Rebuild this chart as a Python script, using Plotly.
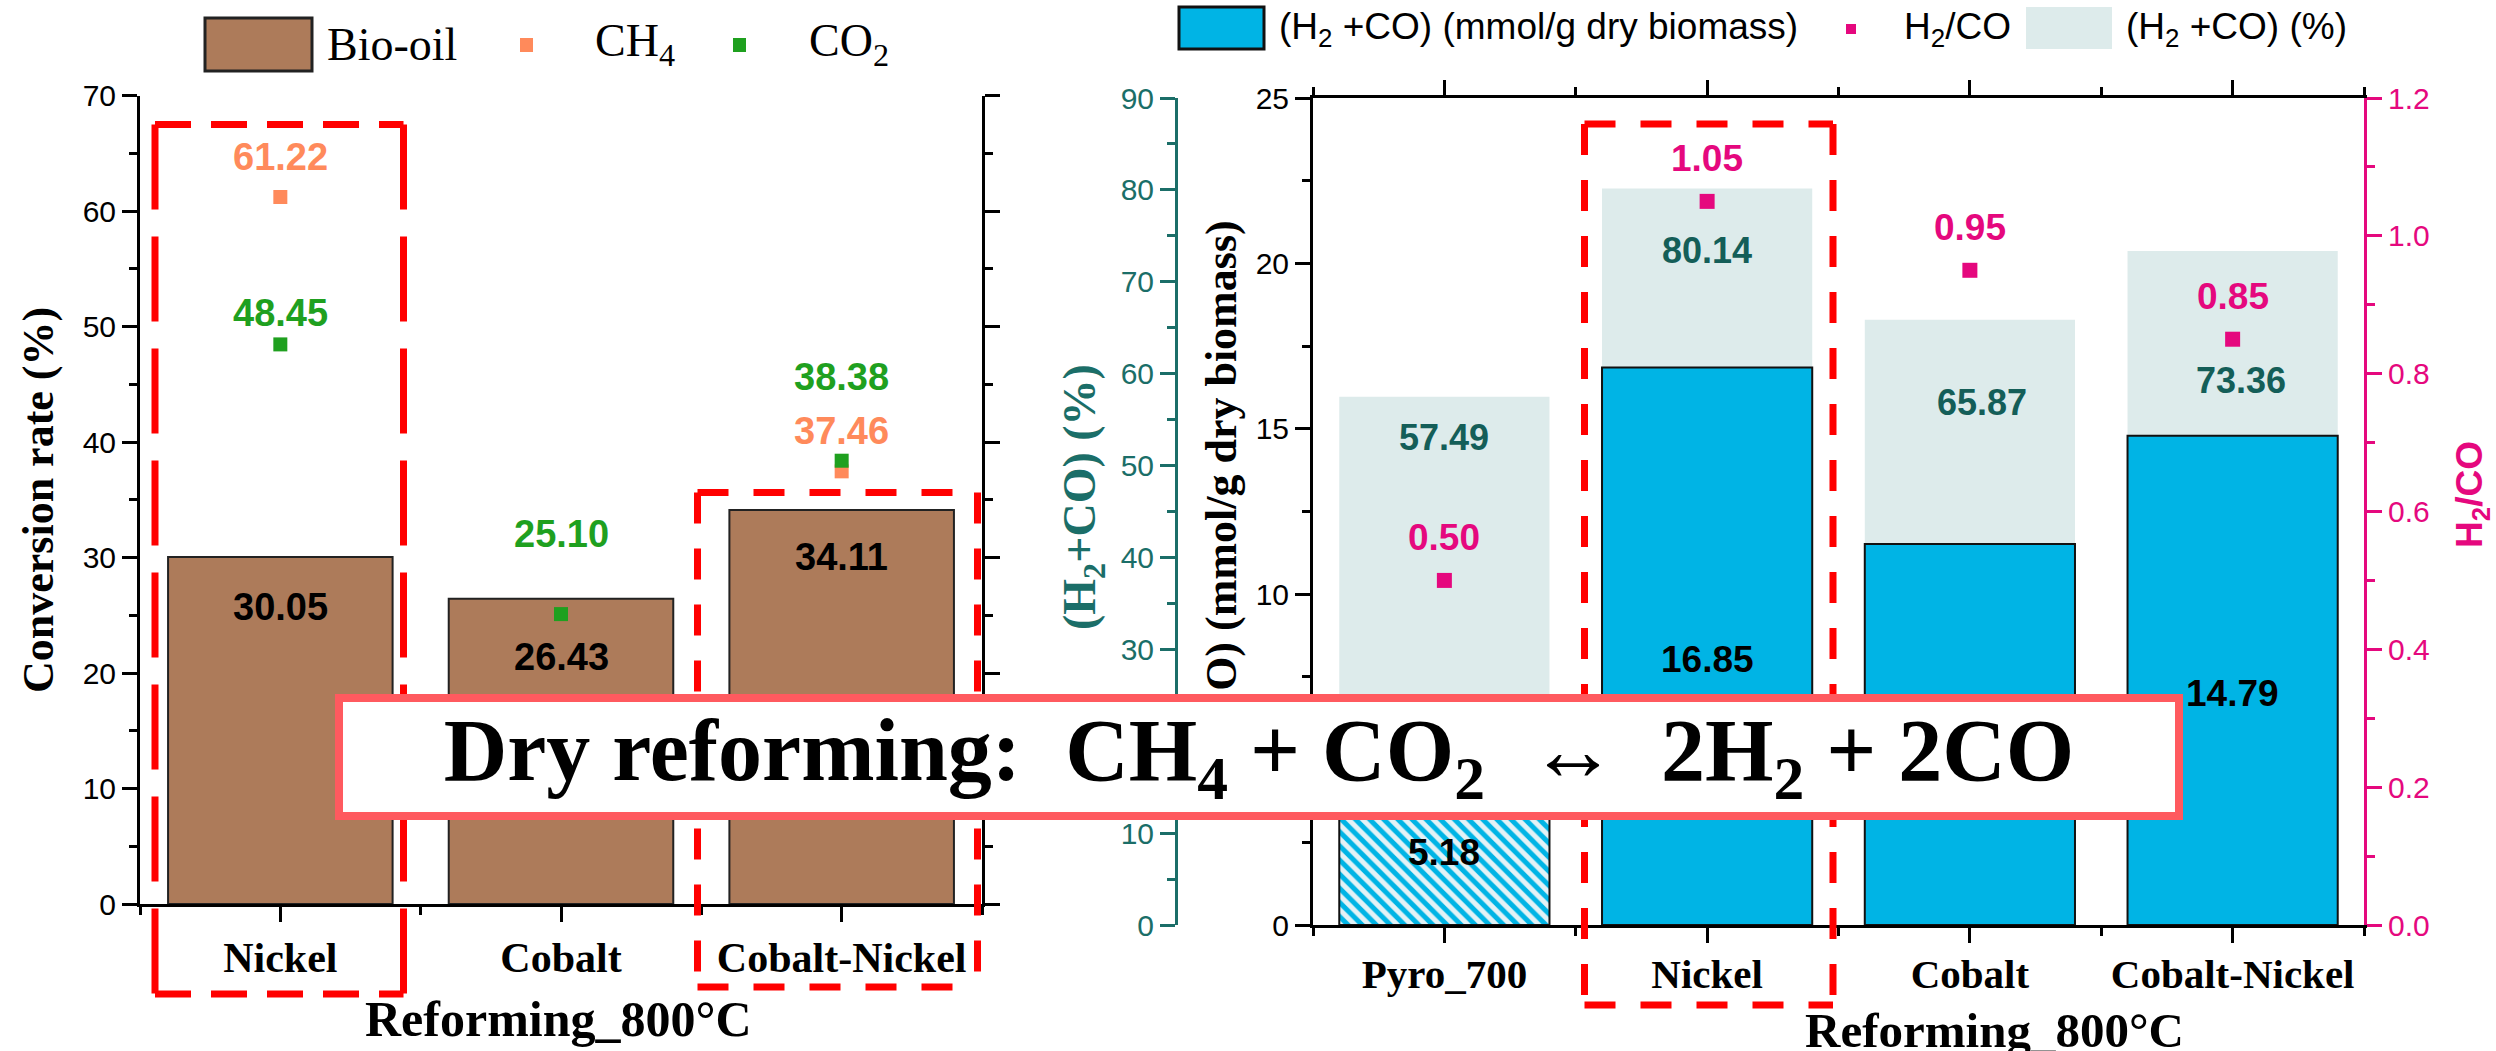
import plotly.graph_objects as go

W, H = 2496, 1051

# ---- left panel: conversion rates at 800 °C reforming ----
catalysts = ["Nickel", "Cobalt", "Cobalt-Nickel"]
bio_oil = [30.05, 26.43, 34.11]
ch4 = [61.22, None, 37.46]
co2 = [48.45, 25.10, 38.38]

# ---- right panel: syngas yield and H2/CO ratio ----
samples = ["Pyro_700", "Nickel", "Cobalt", "Cobalt-Nickel"]
syngas_mmol = [5.18, 16.85, 11.52, 14.79]
syngas_pct = [57.49, 80.14, 65.87, 73.36]
h2_co = [0.50, 1.05, 0.95, 0.85]

# label offsets in pixels (hand placed to avoid overlaps)
bio_shift = [50, 58, 47]
co2_shift = [31, 80, 84]
ch4_shift = 40
pct_shift = [41, 62, 83, 130]
pct_xshift = [0, 0, 12, 8]
ratio_shift = 43

BROWN = "#AD7B5A"
ORANGE = "#FF8A5B"
GREEN = "#1FA01F"
BLUE = "#00B4E5"
PALE = "#DDEBEB"
TEAL = "#1B6E68"
TEAL_DARK = "#145E58"
PINK = "#E5087E"
RED = "#FF0000"
SALMON = "#FF5A5F"

SERIF = "Liberation Serif"
SANS = "Liberation Sans"


def fx(p):
    return p / W


def fy(p):
    return 1 - p / H


xl = list(range(len(catalysts)))
xr = list(range(len(samples)))

fig = go.Figure()

# left panel traces
fig.add_trace(go.Bar(x=xl, y=bio_oil, width=0.8, name="Bio-oil",
                     marker=dict(color=BROWN, line=dict(color="#222222", width=2)),
                     xaxis="x", yaxis="y"))
fig.add_trace(go.Scatter(x=xl, y=ch4, mode="markers", name="CH4",
                         marker=dict(symbol="square", size=14, color=ORANGE),
                         xaxis="x", yaxis="y"))
fig.add_trace(go.Scatter(x=xl, y=co2, mode="markers", name="CO2",
                         marker=dict(symbol="square", size=14, color=GREEN),
                         xaxis="x", yaxis="y"))

# right panel traces
fig.add_trace(go.Bar(x=xr, y=syngas_pct, width=0.8, name="(H2+CO) (%)",
                     marker=dict(color=PALE, line=dict(width=0)),
                     xaxis="x2", yaxis="y2"))
fig.add_trace(go.Bar(x=xr, y=syngas_mmol, width=0.8, name="(H2+CO) (mmol/g)",
                     marker=dict(color=BLUE, line=dict(color="#111111", width=2),
                                 pattern=dict(shape=["\\", "", "", ""], fgcolor=BLUE,
                                              bgcolor="#E3F2F6", size=10, solidity=0.5,
                                              fillmode="replace")),
                     xaxis="x2", yaxis="y3"))
fig.add_trace(go.Scatter(x=xr, y=h2_co, mode="markers", name="H2/CO",
                         marker=dict(symbol="square", size=15, color=PINK),
                         xaxis="x2", yaxis="y4"))

base_axis = dict(showline=True, linewidth=3, ticks="outside", ticklen=15, tickwidth=3,
                 showgrid=False, zeroline=False, automargin=False)


def axis(color="black", **kw):
    d = dict(base_axis)
    d.update(linecolor=color, tickcolor=color)
    d.update(kw)
    return d


tick_sans = dict(family=SANS, size=30, color="black")
tick_serif = dict(family=SERIF, size=42, color="black", weight="bold")

fig.update_layout(
    template="none",
    width=W, height=H, autosize=False,
    margin=dict(l=0, r=0, t=0, b=0, pad=0, autoexpand=False),
    paper_bgcolor="white", plot_bgcolor="rgba(0,0,0,0)",
    showlegend=False, barmode="overlay",
    xaxis=axis(domain=[fx(140), fx(982)], range=[-0.5, 2.5], anchor="y",
               tickmode="array", tickvals=xl, ticktext=catalysts, tickfont=tick_serif,
               minor=dict(tick0=-0.5, dtick=1, ticks="outside", ticklen=8, tickwidth=3,
                          tickcolor="black")),
    xaxis3=axis(overlaying="x", side="top", anchor="y", range=[-0.5, 2.5],
                tickmode="array", tickvals=xl, showticklabels=False,
                ticks="inside", ticklen=13,
                minor=dict(tick0=-0.5, dtick=1, ticks="inside", ticklen=6, tickwidth=3,
                           tickcolor="black")),
    yaxis=axis(domain=[fy(904), fy(95.5)], range=[0, 70], dtick=10, anchor="x",
               mirror="ticks", tickfont=tick_sans,
               minor=dict(dtick=5, ticks="outside", ticklen=8, tickwidth=3,
                          tickcolor="black")),
    xaxis2=axis(domain=[fx(1313), fx(2364)], range=[-0.5, 3.5], anchor="y2",
                tickmode="array", tickvals=xr, ticktext=samples,
                tickfont=dict(tick_serif, size=41), mirror="ticks",
                ticklabelstandoff=-4,
                minor=dict(tick0=-0.5, dtick=1, ticks="outside", ticklen=8, tickwidth=3,
                           tickcolor="black")),
    yaxis2=axis(color=TEAL, domain=[fy(925), fy(98)], range=[0, 90], dtick=10,
                anchor="free", position=fx(1176), side="left",
                tickfont=dict(family=SANS, size=30, color=TEAL),
                minor=dict(dtick=5, ticks="outside", ticklen=8, tickwidth=3,
                           tickcolor=TEAL)),
    yaxis3=axis(overlaying="y2", anchor="x2", side="left", range=[0, 25], dtick=5,
                tickfont=tick_sans,
                minor=dict(dtick=2.5, ticks="outside", ticklen=8, tickwidth=3,
                           tickcolor="black")),
    yaxis4=axis(color=PINK, overlaying="y2", anchor="x2", side="right", range=[0, 1.2],
                dtick=0.2, tickformat=".1f",
                tickfont=dict(family=SANS, size=30, color=PINK),
                minor=dict(dtick=0.1, ticks="outside", ticklen=8, tickwidth=3,
                           tickcolor=PINK)),
)

ann = []
val_font = dict(family=SANS, size=38, weight="bold")

# bar and point value labels, left panel
for i, v in enumerate(bio_oil):
    ann.append(dict(x=i, y=v, xref="x", yref="y", text=f"{v:.2f}", showarrow=False,
                    yshift=-bio_shift[i], font=dict(val_font, color="black")))
for i, v in enumerate(ch4):
    if v is not None:
        ann.append(dict(x=i, y=v, xref="x", yref="y", text=f"{v:.2f}", showarrow=False,
                        yshift=ch4_shift, font=dict(val_font, color=ORANGE)))
for i, v in enumerate(co2):
    ann.append(dict(x=i, y=v, xref="x", yref="y", text=f"{v:.2f}", showarrow=False,
                    yshift=co2_shift[i], font=dict(val_font, color=GREEN)))

# value labels, right panel
rfont = dict(family=SANS, size=37, weight="bold")
for i, v in enumerate(syngas_mmol):
    ann.append(dict(x=i, y=v / 2, xref="x2", yref="y3", text=f"{v:.2f}", showarrow=False,
                    yshift=-13, font=dict(rfont, color="black")))
for i, v in enumerate(syngas_pct):
    ann.append(dict(x=i, y=v, xref="x2", yref="y2", text=f"{v:.2f}", showarrow=False,
                    yshift=-pct_shift[i], xshift=pct_xshift[i],
                    font=dict(rfont, size=36, color=TEAL_DARK)))
for i, v in enumerate(h2_co):
    ann.append(dict(x=i, y=v, xref="x2", yref="y4", text=f"{v:.2f}", showarrow=False,
                    yshift=ratio_shift, font=dict(rfont, color=PINK)))


def paper_text(xp, yp, text, font, angle=0, **kw):
    d = dict(x=fx(xp), y=fy(yp), xref="paper", yref="paper", text=text, showarrow=False,
             xanchor="center", yanchor="middle", textangle=angle, font=font)
    d.update(kw)
    return d


# axis titles
title_serif = dict(family=SERIF, weight="bold")
ann += [
    paper_text(558, 1019, "Reforming_800°C", dict(title_serif, size=50, color="black")),
    paper_text(1994, 1030, "Reforming_800°C", dict(title_serif, size=49, color="black")),
    paper_text(38, 500, "Conversion rate (%)", dict(title_serif, size=44, color="black"), -90),
    paper_text(1224, 516, "(H<sub>2</sub>+CO) (mmol/g dry biomass)",
               dict(title_serif, size=44, color="black"), -90),
    paper_text(1083, 497, "(H<sub>2</sub>+CO) (%)", dict(title_serif, size=46, color=TEAL), -90),
    paper_text(2472, 495, "H<sub>2</sub>/CO",
               dict(family=SANS, size=37, weight="bold", color=PINK), -90),
]

# legend text
leg_serif = dict(family=SERIF, size=46, color="black")
leg_sans = dict(family=SANS, size=37, color="black")
for x0, yc, txt, f in [
    (325, 44, "Bio-oil", leg_serif),
    (593, 44, "CH<sub>4</sub>", leg_serif),
    (807, 44, "CO<sub>2</sub>", leg_serif),
    (1277, 29, "(H<sub>2</sub> +CO) (mmol/g dry biomass)", leg_sans),
    (1902, 29, "H<sub>2</sub>/CO", leg_sans),
    (2124, 29, "(H<sub>2</sub> +CO) (%)", leg_sans),
]:
    ann.append(paper_text(x0, yc, txt, f, xanchor="left"))

# reaction banner, drawn last so it sits on top
nb = "\u00a0"
reaction = (f"Dry reforming:{nb*2}CH<sub>4</sub> + CO<sub>2</sub>{nb*2}↔{nb*2}"
            f"2H<sub>2</sub> + 2CO")
ann.append(paper_text(1259, 757, reaction,
                      dict(family=SERIF, size=88, weight="bold", color="black"),
                      width=1832, height=110, bgcolor="white", bordercolor=SALMON,
                      borderwidth=8, borderpad=0, align="center", valign="middle"))

fig.update_layout(annotations=ann)

# legend swatches
shapes = [
    dict(type="rect", xref="paper", yref="paper", x0=fx(205), x1=fx(312), y0=fy(71), y1=fy(18),
         fillcolor=BROWN, line=dict(color="#222222", width=3)),
    dict(type="rect", xref="paper", yref="paper", x0=fx(520), x1=fx(533), y0=fy(52), y1=fy(38),
         fillcolor=ORANGE, line=dict(width=0)),
    dict(type="rect", xref="paper", yref="paper", x0=fx(733), x1=fx(746), y0=fy(52), y1=fy(38),
         fillcolor=GREEN, line=dict(width=0)),
    dict(type="rect", xref="paper", yref="paper", x0=fx(1179), x1=fx(1264), y0=fy(49), y1=fy(7),
         fillcolor=BLUE, line=dict(color="#111111", width=3)),
    dict(type="rect", xref="paper", yref="paper", x0=fx(1846), x1=fx(1856), y0=fy(34), y1=fy(24),
         fillcolor=PINK, line=dict(width=0)),
    dict(type="rect", xref="paper", yref="paper", x0=fx(2026), x1=fx(2112), y0=fy(49), y1=fy(7),
         fillcolor=PALE, line=dict(width=0)),
]


# red dashed highlight frames
def dashed_frame(x0, x1, y0, y1, hdash, vdash):
    out = []
    for (a, b, c, d, dash) in [
        (x0, y0, x1, y0, hdash), (x0, y1, x1, y1, hdash),
        (x0, y0, x0, y1, vdash), (x1, y0, x1, y1, vdash),
    ]:
        out.append(dict(type="line", xref="paper", yref="paper",
                        x0=fx(a), y0=fy(b), x1=fx(c), y1=fy(d),
                        line=dict(color=RED, width=7, dash=dash)))
    return out


shapes += dashed_frame(155, 403.5, 124.5, 994, "36px,20px", "85px,27px")
shapes += dashed_frame(697.5, 977.5, 492.5, 987, "31px,25px", "31px,25px")
shapes += dashed_frame(1584.5, 1833, 124, 1005, "31px,25px", "31px,25px")

fig.update_layout(shapes=shapes)

fig.write_html("out.html")
